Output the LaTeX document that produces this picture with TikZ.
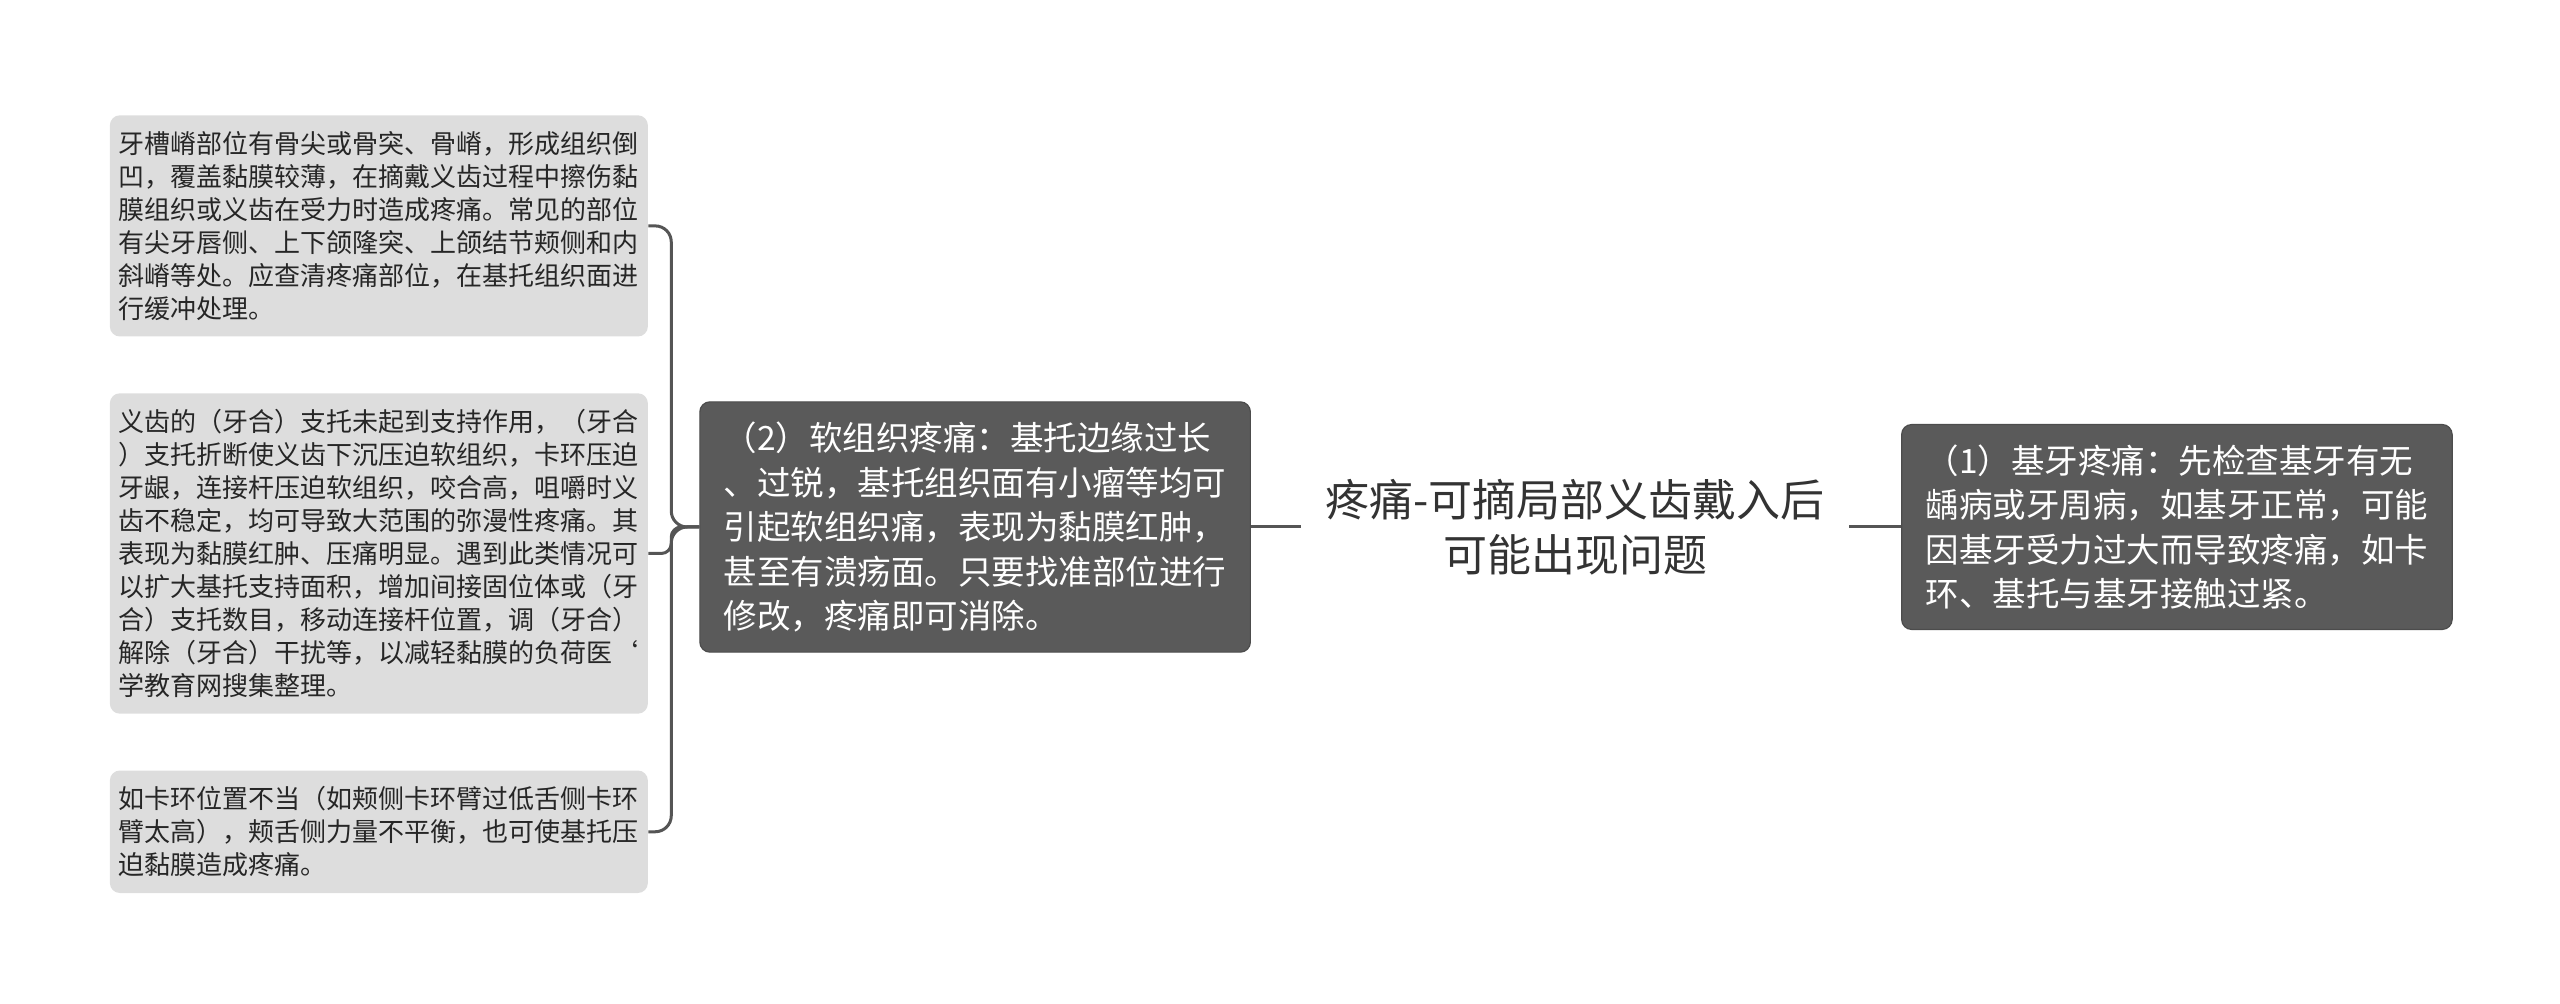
\documentclass[tikz,border=0pt]{standalone}
\usepackage{fontspec}
\setmainfont{Noto Sans CJK SC}
\usepackage{tikz}
\usetikzlibrary{positioning}
\definecolor{padgray}{HTML}{DDDDDD}
\definecolor{topicgray}{HTML}{5A5A5A}
\definecolor{linegray}{HTML}{555555}
\definecolor{inkgray}{HTML}{333333}

\begin{document}
\begin{tikzpicture}[
  lightbox/.style={fill=padgray, rounded corners=5pt, align=left, inner xsep=4.5pt, inner ysep=8pt, text=black!85, font=\fontsize{13pt}{16.5pt}\selectfont},
  darkbox/.style={fill=topicgray, draw=topicgray!85!black, line width=0.6pt, rounded corners=5pt, align=left, inner xsep=12pt, inner ysep=10pt, text=white, font=\fontsize{16.75pt}{22.25pt}\selectfont},
  link/.style={draw=linegray, line width=1.5pt, rounded corners=8pt}]
  \useasboundingbox (0,0) rectangle (1280pt,-502pt);
  % centre topic
  \node[align=center, text=inkgray, inner xsep=12pt, font=\fontsize{22pt}{27.5pt}\selectfont] (title) at (787.5pt,-263.5pt) {疼痛-可摘局部义齿戴入后\\可能出现问题};
  \node[darkbox, left=25pt of title] (soft) {（2）软组织疼痛：基托边缘过长\\、过锐，基托组织面有小瘤等均可\\引起软组织痛，表现为黏膜红肿，\\甚至有溃疡面。只要找准部位进行\\修改，疼痛即可消除。};
  \node[darkbox, right=26pt of title] (abut) {（1）基牙疼痛：先检查基牙有无\\龋病或牙周病，如基牙正常，可能\\因基牙受力过大而导致疼痛，如卡\\环、基托与基牙接触过紧。};
  % details of (2)
  \node[lightbox, left=25.5pt of soft, yshift=-13.25pt] (support) {义齿的（牙合）支托未起到支持作用，（牙合\\）支托折断使义齿下沉压迫软组织，卡环压迫\\牙龈，连接杆压迫软组织，咬合高，咀嚼时义\\齿不稳定，均可导致大范围的弥漫性疼痛。其\\表现为黏膜红肿、压痛明显。遇到此类情况可\\以扩大基托支持面积，增加间接固位体或（牙\\合）支托数目，移动连接杆位置，调（牙合）\\解除（牙合）干扰等，以减轻黏膜的负荷医\symbol{96}\\学教育网搜集整理。};
  \node[lightbox, above=28pt of support] (ridge) {牙槽嵴部位有骨尖或骨突、骨嵴，形成组织倒\\凹，覆盖黏膜较薄，在摘戴义齿过程中擦伤黏\\膜组织或义齿在受力时造成疼痛。常见的部位\\有尖牙唇侧、上下颌隆突、上颌结节颊侧和内\\斜嵴等处。应查清疼痛部位，在基托组织面进\\行缓冲处理。};
  \node[lightbox, below=28pt of support] (clasp) {如卡环位置不当（如颊侧卡环臂过低舌侧卡环\\臂太高），颊舌侧力量不平衡，也可使基托压\\迫黏膜造成疼痛。};

  \draw[link] (soft.east) -- (title.west);
  \draw[link] (title.east) -- (abut.west);
  \draw[link] (soft.west) -- ++(-14pt,0) |- (ridge.east);
  \draw[link, rounded corners=5pt] (soft.west) -- ++(-14pt,0) |- (support.east);
  \draw[link] (soft.west) -- ++(-14pt,0) |- (clasp.east);
\end{tikzpicture}
\end{document}
